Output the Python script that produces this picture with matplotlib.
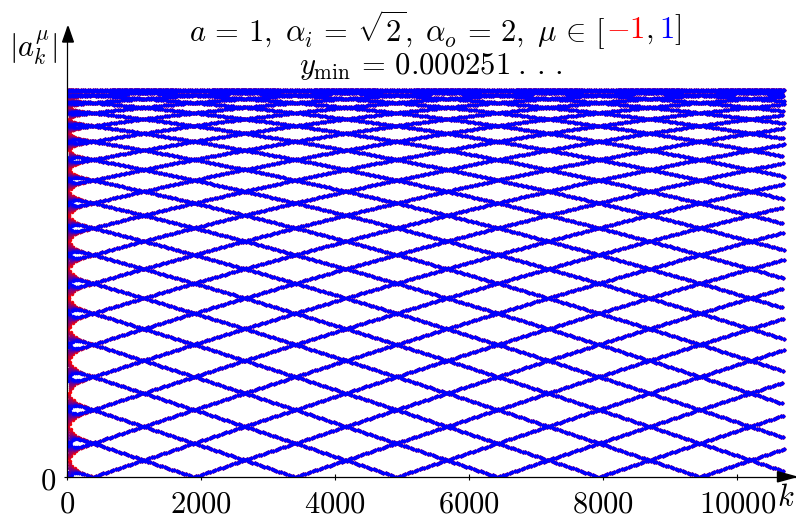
import numpy as np
import matplotlib
matplotlib.use("Agg")
import matplotlib.pyplot as plt
from matplotlib.patches import Polygon

plt.rcParams["mathtext.fontset"] = "cm"
plt.rcParams["font.family"] = ["DejaVu Serif"]

# ---- data -------------------------------------------------------------
k_max = 10700                       # last index plotted
mu_values = [-1.0, -0.75, -0.5, -0.25, 0.0, 0.25, 0.5, 0.75, 1.0]
levels_per_half_turn = 36           # number of interleaved branches
residue_step = 11                   # branch index advance per step in k
first_zero_k = 383                  # first index where a branch hits zero
zero_spacing_k = 1510               # spacing between successive zero hits
transient_amp = 0.035               # mu-dependent start-up phase shift
transient_decay = 65.0              # decay length of that shift
x_ticks = [0, 2000, 4000, 6000, 8000, 10000]
y_ticks = [0]

# ---- sequence |a_k^mu| -------------------------------------------------
k = np.arange(0, k_max + 1)
step = np.pi / levels_per_half_turn
drift = step / zero_spacing_k
omega = residue_step * step + drift
phase0 = np.pi / 2 - drift * first_zero_k

W, H = 796, 522
fig = plt.figure(figsize=(W / 100, H / 100), dpi=100)
x0_px, y0_px, top_px, right_px = 67.3, 477.0, 27.0, 796.0
ax = fig.add_axes([x0_px / W, (H - y0_px) / H, (right_px - x0_px) / W,
                   (y0_px - top_px) / H])
px_per_k = 0.067
ax.set_xlim(0, (right_px - x0_px) / px_per_k)
ax.set_ylim(0, (y0_px - top_px) / 387.5)

for mu in mu_values:
    t = (mu + 1) / 2
    color = (1 - t, 0, t)
    theta = phase0 + omega * k + mu * transient_amp * np.exp(-k / transient_decay)
    ax.plot(k, np.abs(np.cos(theta)), ls="none", marker="o", ms=2.5, mew=0,
            color=color)

# ---- axes styling -----------------------------------------------------
for side in ("top", "right"):
    ax.spines[side].set_visible(False)
for side in ("left", "bottom"):
    ax.spines[side].set_linewidth(0.9)
ax.set_xticks(x_ticks)
ax.set_yticks(y_ticks)
ax.set_xticklabels([f"${v}$" for v in x_ticks])
ax.set_yticklabels([f"${v}$" for v in y_ticks])
ax.tick_params(axis="both", direction="inout", length=4.5, width=0.8,
               labelsize=22)
ax.tick_params(axis="x", pad=6)
ax.tick_params(axis="y", pad=6)


def fig_pt(x, y):
    return (x / W, 1 - y / H)


# arrow heads
fig.add_artist(Polygon([fig_pt(68, 26.5), fig_pt(62.6, 42), fig_pt(73.4, 42)],
                       closed=True, color="black", transform=fig.transFigure))
fig.add_artist(Polygon([fig_pt(796, 476.8), fig_pt(777.5, 471.7),
                        fig_pt(777.5, 481.9)],
                       closed=True, color="black", transform=fig.transFigure))

# axis labels
fig.text(33 / W, 1 - 48 / H, r"$|a_k^\mu|$", fontsize=22, ha="center",
         va="center")
fig.text(786 / W, 1 - 497 / H, r"$k$", fontsize=22, ha="center", va="center")

# title with coloured interval ends
title_size = 22
pieces = [
    (r"$a\,=\,1,\;\alpha_i\,=\,\sqrt{2},\;\alpha_o\,=\,2,\;\mu\,\in\,[$", "black"),
    (r"$-1$", "red"),
    (r"$,$", "black"),
    (r"$1$", "blue"),
    (r"$]$", "black"),
]
gaps = [0.5, 0.5, 6.0, 0.5]
renderer = fig.canvas.get_renderer()
widths = []
for s, c in pieces:
    tt = fig.text(0, 0, s, fontsize=title_size)
    widths.append(tt.get_window_extent(renderer).width)
    tt.remove()
total = sum(widths) + sum(gaps)
x = 435 - total / 2
for i, ((s, c), w) in enumerate(zip(pieces, widths)):
    fig.text(x / W, 1 - 30 / H, s, fontsize=title_size, color=c, ha="left",
             va="center")
    x += w + (gaps[i] if i < len(gaps) else 0)
fig.text(431 / W, 1 - 66 / H, r"$y_{\min}\,=\,0.000251\;.\,.\,.$",
         fontsize=title_size, ha="center", va="center")

fig.savefig("out.png", dpi=100)
